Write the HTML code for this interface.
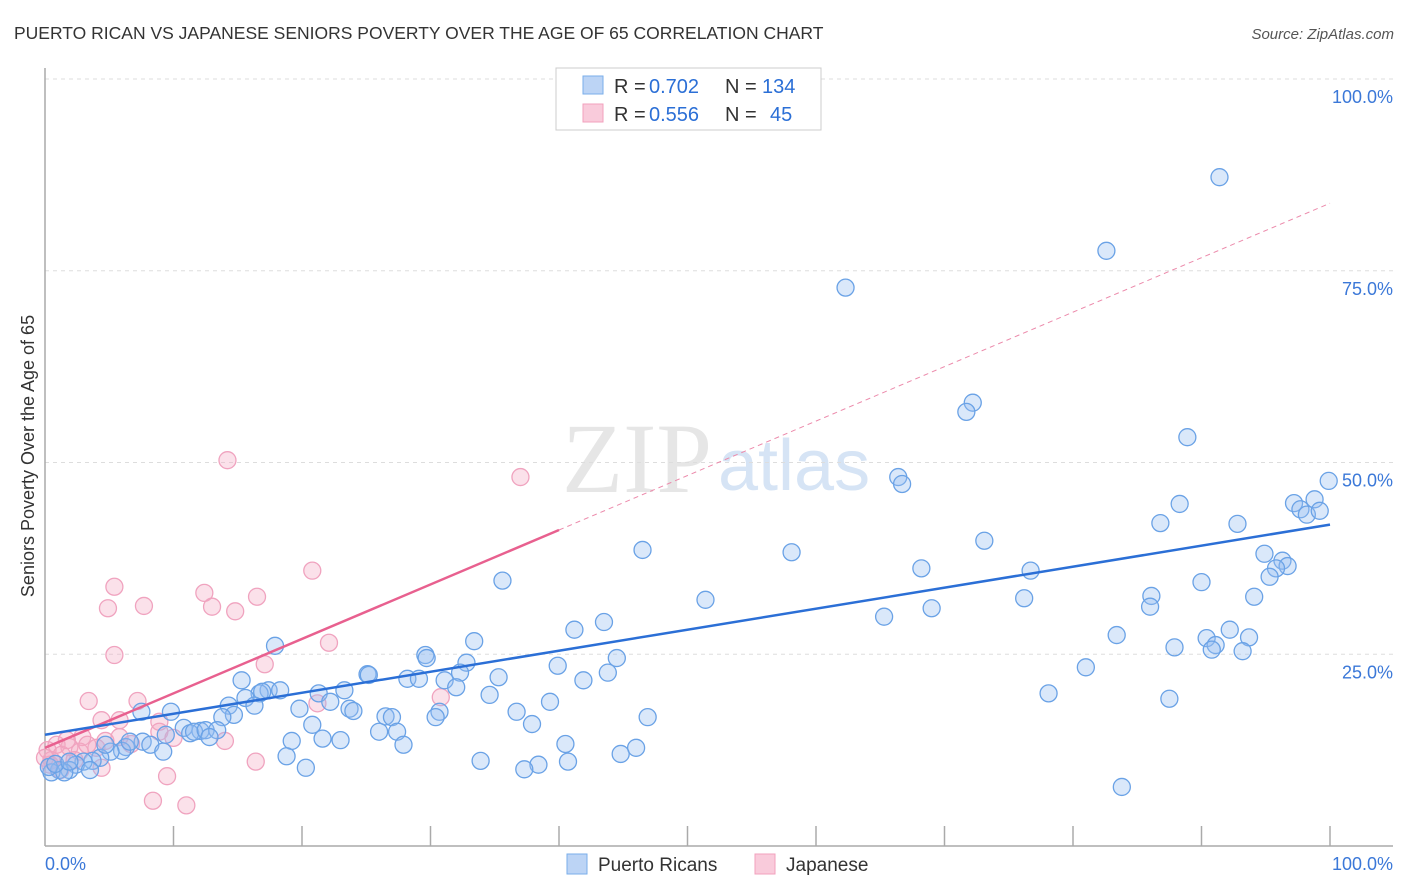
<!DOCTYPE html>
<html><head><meta charset="utf-8">
<style>
body{margin:0;background:#fff;font-family:"Liberation Sans",sans-serif;}
#wrap{position:relative;width:1406px;height:892px;overflow:hidden;}
</style></head>
<body>
<div id="wrap">
<svg id="svg" width="1406" height="892" xmlns="http://www.w3.org/2000/svg">
<text x="14" y="39" font-size="17.5" fill="#333">PUERTO RICAN VS JAPANESE SENIORS POVERTY OVER THE AGE OF 65 CORRELATION CHART</text>
<text x="1394" y="39" font-size="15" fill="#555" text-anchor="end" font-style="italic">Source: ZipAtlas.com</text>
<text x="712" y="492" font-size="100" fill="#e6e6e6" font-family="Liberation Serif,serif" text-anchor="end">ZIP</text>
<text x="718" y="490" font-size="72" fill="#d6e4f5">atlas</text>
<g id="grid"></g>
<g id="axes"></g>
<g id="pts"></g>
<g id="lines"></g>
<text transform="translate(34,456) rotate(-90)" font-size="18" fill="#333" text-anchor="middle">Seniors Poverty Over the Age of 65</text>
<g>
<rect x="556" y="68" width="265" height="62" fill="#fff" stroke="#ccc"/>
<rect x="583" y="76" width="20" height="18" fill="#bcd4f5" stroke="#7aaeea"/>
<text x="614" y="93" font-size="20" fill="#333">R =</text>
<text x="649" y="93" font-size="20" fill="#2b6fd6">0.702</text>
<text x="725" y="93" font-size="20" fill="#333">N =</text>
<text x="762" y="93" font-size="20" fill="#2b6fd6">134</text>
<rect x="583" y="104" width="20" height="18" fill="#f9cbdb" stroke="#f2a0bd"/>
<text x="614" y="121" font-size="20" fill="#333">R =</text>
<text x="649" y="121" font-size="20" fill="#2b6fd6">0.556</text>
<text x="725" y="121" font-size="20" fill="#333">N =</text>
<text x="770" y="121" font-size="20" fill="#2b6fd6">45</text>
</g>
<g>
<rect x="567" y="854" width="20" height="20" fill="#bcd4f5" stroke="#7aaeea"/>
<text x="598" y="871" font-size="19" fill="#333">Puerto Ricans</text>
<rect x="755" y="854" width="20" height="20" fill="#f9cbdb" stroke="#f2a0bd"/>
<text x="786" y="871" font-size="19" fill="#333">Japanese</text>
</g>
</svg>
</div>
<script>
const blueX=[62.3,91.4,82.6,72.2,71.7,88.9,66.4,66.7,99.9,98.8,97.2,97.7,98.2,99.2,88.3,86.8,92.8,46.5,58.1,73.1,94.9,96.3,96.7,95.8,95.3,68.2,76.7,35.6,90.0,94.1,86.1,86.0,76.2,51.4,69.0,65.3,43.5,41.2,83.4,92.2,90.4,93.7,87.9,91.1,90.8,93.2,33.4,17.9,29.6,29.7,44.5,32.8,39.9,81.0,43.8,32.3,25.1,25.2,15.3,35.3,28.2,29.1,41.9,31.1,32.0,17.4,18.3,16.7,16.9,23.3,21.3,78.1,34.6,15.6,14.3,16.3,39.3,87.5,22.2,19.8,23.7,24.0,36.7,9.8,7.5,14.7,30.7,30.4,26.5,27.0,46.9,13.8,37.9,20.8,10.8,12.1,11.3,11.6,12.5,26.0,27.4,13.4,19.2,21.6,23.0,12.8,9.4,7.6,8.2,6.3,6.0,5.1,9.2,40.5,27.9,46.0,44.8,18.8,4.3,3.7,3.0,2.4,33.9,38.4,20.3,40.7,37.3,1.9,1.1,0.5,1.5,0.3,0.8,83.8,4.7,6.6,1.9,3.5];
const blueY=[72.8,87.2,77.6,57.8,56.6,53.3,48.1,47.2,47.6,45.2,44.7,43.9,43.2,43.7,44.6,42.1,42.0,38.6,38.3,39.8,38.1,37.2,36.5,36.2,35.1,36.2,35.9,34.6,34.4,32.5,32.6,31.2,32.3,32.1,31.0,29.9,29.2,28.2,27.5,28.2,27.1,27.2,25.9,26.2,25.6,25.4,26.7,26.1,24.9,24.5,24.5,23.9,23.5,23.3,22.6,22.6,22.4,22.3,21.6,22.0,21.8,21.8,21.6,21.6,20.7,20.3,20.3,19.9,20.1,20.3,19.9,19.9,19.7,19.3,18.3,18.3,18.8,19.2,18.8,17.9,17.9,17.6,17.5,17.5,17.5,17.1,17.5,16.8,16.9,16.8,16.8,16.8,15.9,15.8,15.4,15.0,14.7,14.9,15.1,14.9,14.9,15.1,13.7,14.0,13.8,14.2,14.5,13.6,13.2,12.9,12.4,12.3,12.3,13.3,13.2,12.8,12.0,11.7,11.5,11.1,11.0,10.6,11.1,10.6,10.2,11.0,10.0,9.9,9.9,9.6,9.6,10.3,10.7,7.7,13.2,13.6,11.0,9.9];
const pinkX=[14.2,37.0,20.8,5.4,12.4,16.5,7.7,4.9,13.0,14.8,22.1,5.4,17.1,3.4,7.2,30.8,21.2,4.4,5.8,8.9,8.9,14.0,4.7,10.0,6.7,2.9,0.9,1.9,4.0,0.2,2.7,1.3,0.5,16.4,2.3,4.4,9.5,8.4,11.0,0.4,1.7,3.3,1.2,5.8,0.0];
const pinkY=[50.3,48.1,35.9,33.8,33.0,32.5,31.3,31.0,31.2,30.6,26.5,24.9,23.7,18.9,18.9,19.4,18.6,16.4,16.4,16.2,14.9,13.7,13.7,14.1,13.3,14.2,13.2,12.9,12.8,12.5,12.3,11.9,11.2,11.0,11.2,10.2,9.1,5.9,5.3,10.6,13.8,13.2,9.9,14.2,11.5];
const blueLine=[14.5,41.9];
const pinkLine=[12.8,83.8];
const pinkSolidEnd=40;
const xTicks=[0,10,20,30,40,50,60,70,80,90,100];
const yTicks=[25,50,75,100];
const yTickLabels=["25.0%","50.0%","75.0%","100.0%"];

const NS="http://www.w3.org/2000/svg";
const X0=45,X1=1330,Y0=846,Y1=79;
const sx=v=>X0+(X1-X0)*v/100, sy=v=>Y0-(Y0-Y1)*v/100;
function mk(tag,attrs,parent){const e=document.createElementNS(NS,tag);for(const k in attrs)e.setAttribute(k,attrs[k]);document.getElementById(parent).appendChild(e);return e;}

yTicks.forEach((t,i)=>{
  const g=mk('line',{x1:X0,x2:1393,y1:sy(t),y2:sy(t),stroke:'#ddd','stroke-dasharray':'4,4'},'grid');
  
  
  const tx=mk('text',{x:1393,y:sy(t)+24,'font-size':18,fill:'#3b78d8','text-anchor':'end'},'grid');
  tx.textContent=yTickLabels[i];
  
  
});
const ax=mk('line',{x1:X0,x2:1393,y1:Y0,y2:Y0,stroke:'#aaa','stroke-width':1.5},'axes');


const ay=mk('line',{x1:X0,x2:X0,y1:68,y2:Y0,stroke:'#aaa','stroke-width':1.5},'axes');


xTicks.slice(1).forEach(t=>{
  const l=mk('line',{x1:sx(t),x2:sx(t),y1:826,y2:Y0,stroke:'#aaa','stroke-width':1.5},'axes');
  
  
});
const l0=mk('text',{x:45,y:870,'font-size':18,fill:'#3b78d8'},'axes');l0.textContent='0.0%';


const l1=mk('text',{x:1393,y:870,'font-size':18,fill:'#3b78d8','text-anchor':'end'},'axes');l1.textContent='100.0%';



pinkX.forEach((x,i)=>{
  const c=mk('circle',{cx:sx(x),cy:sy(pinkY[i]),r:8.5,fill:'rgba(244,170,196,0.35)',stroke:'#f0a3bf','stroke-width':1.3},'pts');
  
  
});
blueX.forEach((x,i)=>{
  const c=mk('circle',{cx:sx(x),cy:sy(blueY[i]),r:8.5,fill:'rgba(150,190,240,0.35)',stroke:'#6aa2e6','stroke-width':1.3},'pts');
  
  
});
const py=x=>pinkLine[0]+(pinkLine[1]-pinkLine[0])*x/100;
const pd=mk('line',{x1:sx(pinkSolidEnd),y1:sy(py(pinkSolidEnd)),x2:sx(100),y2:sy(py(100)),stroke:'#ec8aab','stroke-width':1,'stroke-dasharray':'5,4'},'lines');


const ps=mk('line',{x1:sx(0),y1:sy(py(0)),x2:sx(pinkSolidEnd),y2:sy(py(pinkSolidEnd)),stroke:'#e8608f','stroke-width':2.5},'lines');


const bl=mk('line',{x1:sx(0),y1:sy(blueLine[0]),x2:sx(100),y2:sy(blueLine[1]),stroke:'#2b6fd6','stroke-width':2.5},'lines');


</script>
</body></html>
